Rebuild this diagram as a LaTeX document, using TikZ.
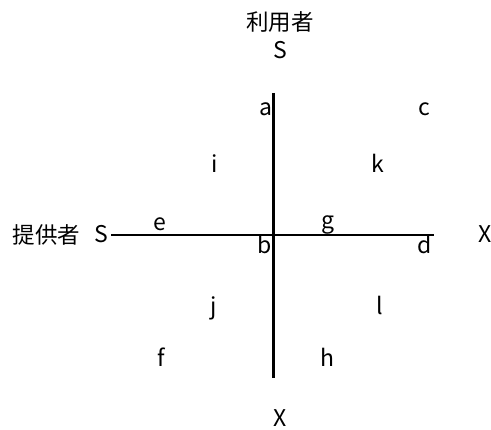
\documentclass[tikz,border=0pt]{standalone}
\usepackage{fontspec}
\setmainfont{Noto Sans CJK JP}
\newfontfamily\cjk{Noto Sans CJK JP}
\begin{document}
\begin{tikzpicture}[x=1pt,y=-1pt,
  lbl/.style={inner sep=0pt,anchor=base,font=\fontsize{23}{27}\selectfont},
  cjklbl/.style={inner sep=0pt,font=\cjk\fontsize{22.5}{27}\selectfont},
  axis/.style={line width=2.6pt}]
\useasboundingbox (0,0) rectangle (491,430);
% axes
\coordinate (vtop) at (273.5,93);
\coordinate (vbot) at (273.5,378);
\coordinate (hleft) at (111,235);
\coordinate (hright) at (434,235);
\draw[axis] (vtop) -- (vbot);
\draw[axis] (hleft) -- (hright);
% axis titles
\node[cjklbl] (user) at (280,22) {利用者};
\node[lbl] (stop) at (280,59) {S};
\node[cjklbl] (prov) at (46.5,235) {提供者};
\node[lbl] (sleft) at (101,243) {S};
\node[lbl] (xright) at (485,243) {X};
\node[lbl] (xbot) at (280,427) {X};
% point labels
\node[lbl] (a) at (265.5,116) {a};
\node[lbl] (c) at (424.5,116) {c};
\node[lbl] (i) at (214.5,173) {i};
\node[lbl] (k) at (378,173) {k};
\node[lbl] (e) at (160,231) {e};
\node[lbl] (g) at (327.5,229) {g};
\node[lbl] (b) at (265,254) {b};
\node[lbl] (d) at (424.5,254) {d};
\node[lbl] (j) at (214,315) {j};
\node[lbl] (l) at (380,315) {l};
\node[lbl] (f) at (161.5,367) {f};
\node[lbl] (h) at (327,367) {h};
\end{tikzpicture}
\end{document}
